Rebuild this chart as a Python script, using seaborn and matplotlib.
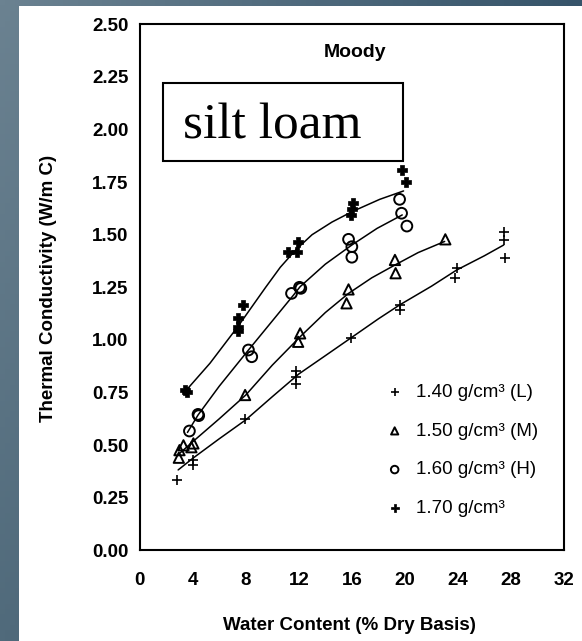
import numpy as np
import pandas as pd
import matplotlib
matplotlib.use("Agg")
import matplotlib.pyplot as plt
import seaborn as sns
from matplotlib.patches import Rectangle

# ---------------- data ----------------
series_labels = ["1.40 g/cm³ (L)", "1.50 g/cm³ (M)", "1.60 g/cm³ (H)", "1.70 g/cm³"]

L_x = [2.8, 4.0, 4.0, 7.95, 11.8, 11.8, 11.8, 15.9, 19.6, 19.6, 23.9, 23.8, 27.45, 27.45, 27.55]
L_y = [0.334, 0.43, 0.406, 0.626, 0.85, 0.825, 0.79, 1.01, 1.166, 1.143, 1.34, 1.293, 1.514, 1.475, 1.388]

M_x = [3.0, 3.3, 2.95, 4.05, 3.9, 7.95, 12.1, 11.95, 15.75, 15.6, 19.25, 19.3, 23.05]
M_y = [0.476, 0.499, 0.44, 0.508, 0.49, 0.738, 1.031, 0.991, 1.24, 1.174, 1.38, 1.317, 1.478]

H_x = [3.75, 4.4, 4.45, 8.2, 8.45, 11.45, 12.05, 12.15, 15.75, 16.0, 16.0, 19.6, 19.75, 20.15]
H_y = [0.567, 0.646, 0.64, 0.952, 0.92, 1.221, 1.25, 1.245, 1.478, 1.443, 1.393, 1.668, 1.602, 1.541]

V_x = [3.45, 3.6, 7.8, 7.4, 7.4, 7.45, 11.2, 11.85, 11.95, 16.1, 15.9, 16.0, 19.75, 20.1]
V_y = [0.762, 0.752, 1.166, 1.103, 1.06, 1.04, 1.42, 1.42, 1.467, 1.649, 1.594, 1.62, 1.807, 1.749]

# fitted curves
L_fit_x = [2.9, 4.0, 6.0, 8.0, 10.0, 12.0, 14.0, 15.9, 18.0, 19.6, 22.0, 23.9, 26.0, 27.45]
L_fit_y = [0.382, 0.437, 0.53, 0.62, 0.73, 0.838, 0.925, 1.008, 1.1, 1.166, 1.255, 1.332, 1.4, 1.451]

M_fit_x = [3.0, 4.0, 6.0, 8.0, 10.0, 12.1, 14.0, 15.75, 17.5, 19.25, 21.0, 23.0]
M_fit_y = [0.46, 0.516, 0.625, 0.738, 0.88, 1.015, 1.13, 1.221, 1.295, 1.356, 1.415, 1.468]

H_fit_x = [3.6, 4.4, 6.0, 8.1, 10.0, 11.6, 12.1, 14.0, 16.0, 17.9, 19.8]
H_fit_y = [0.56, 0.643, 0.78, 0.944, 1.09, 1.213, 1.253, 1.36, 1.451, 1.53, 1.594]

V_fit_x = [3.5, 5.3, 7.4, 9.5, 10.6, 11.8, 13.0, 14.5, 16.0, 18.1, 19.9]
V_fit_y = [0.76, 0.889, 1.063, 1.25, 1.345, 1.43, 1.5, 1.56, 1.609, 1.668, 1.708]

x_ticks = [0, 4, 8, 12, 16, 20, 24, 28, 32]
y_ticks = [0.00, 0.25, 0.50, 0.75, 1.00, 1.25, 1.50, 1.75, 2.00, 2.25, 2.50]

# ---------------- styling ----------------
sns.set_theme(style="white")
plt.rcParams['font.family'] = ['Liberation Sans', 'DejaVu Sans']

W, H = 582, 641
fig = plt.figure(figsize=(W / 100, H / 100), dpi=100)

# slate gradient background with white page
bg = fig.add_axes([0, 0, 1, 1], zorder=-10)
def hexrgb(h):
    h = h.lstrip('#')
    return np.array([int(h[i:i + 2], 16) / 255 for i in (0, 2, 4)])
tl, tr, bl, br = hexrgb('#6b8291'), hexrgb('#36546a'), hexrgb('#506a7b'), hexrgb('#2f4a5e')
gx = np.linspace(0, 1, 120)[None, :, None]
gy = np.linspace(0, 1, 120)[:, None, None]
img = (1 - gy) * ((1 - gx) * tl + gx * tr) + gy * ((1 - gx) * bl + gx * br)
bg.imshow(img, aspect='auto', extent=(0, 1, 0, 1), origin='upper')
bg.add_patch(Rectangle((18.5 / W, 0), 1, 1 - 5.8 / H, facecolor='white',
                       edgecolor='none', transform=bg.transAxes))
bg.set_xlim(0, 1); bg.set_ylim(0, 1)
bg.axis('off')

ax_l, ax_r, ax_t, ax_b = 139.7, 564.0, 24.3, 550.3
ax = fig.add_axes([ax_l / W, (H - ax_b) / H, (ax_r - ax_l) / W, (ax_b - ax_t) / H])
ax.set_facecolor('white')

# curves
for fx, fy in [(L_fit_x, L_fit_y), (M_fit_x, M_fit_y), (H_fit_x, H_fit_y), (V_fit_x, V_fit_y)]:
    sns.lineplot(x=fx, y=fy, sort=False, estimator=None, color='black', lw=1.1, ax=ax,
                 legend=False)

# points
sns.scatterplot(x=L_x, y=L_y, marker='+', s=55, color='black', linewidth=1.2,
                label=series_labels[0], ax=ax, zorder=3)
sns.scatterplot(x=M_x, y=M_y, marker='^', s=55, facecolor='none', edgecolor='black',
                linewidth=1.4, label=series_labels[1], ax=ax, zorder=3)
sns.scatterplot(x=H_x, y=H_y, marker='o', s=60, facecolor='none', edgecolor='black',
                linewidth=1.4, label=series_labels[2], ax=ax, zorder=3)
sns.scatterplot(x=V_x, y=V_y, marker='P', s=60, color='black', edgecolor='black',
                linewidth=0.5, label=series_labels[3], ax=ax, zorder=3)

ax.set_xlim(0, 32)
ax.set_ylim(0, 2.5)
ax.set_xticks(x_ticks)
ax.set_xticklabels([str(t) for t in x_ticks])
ax.set_yticks(y_ticks)
ax.set_yticklabels([f"{t:.2f}" for t in y_ticks])

for sp in ax.spines.values():
    sp.set_visible(True)
    sp.set_color('black')
    sp.set_linewidth(1.5)

ax.tick_params(axis='both', direction='in', length=7.5, width=1.4, color='black',
               labelsize=13.5, labelcolor='black')
ax.tick_params(axis='x', pad=15.5)
ax.tick_params(axis='y', pad=8.0)
for lab in ax.get_xticklabels() + ax.get_yticklabels():
    lab.set_fontweight('bold')

ax.set_xlabel("Water Content (% Dry Basis)", fontsize=13.5, fontweight='bold', color='black')
ax.set_ylabel("Thermal Conductivity (W/m C)", fontsize=13.5, fontweight='bold', color='black')
ax.xaxis.set_label_coords(0.495, (ax_b - 629.5) / (ax_b - ax_t))
ax.xaxis.label.set_va('baseline')
ax.yaxis.set_label_coords((53.3 - ax_l) / (ax_r - ax_l), 0.497)
ax.yaxis.label.set_va('baseline')

ax.text((355.5 - ax_l) / (ax_r - ax_l), (ax_b - 56.7) / (ax_b - ax_t), "Moody",
        transform=ax.transAxes, ha='center', va='baseline', fontsize=14,
        fontweight='bold', color='black')

# silt loam box
bx0, bx1, by0, by1 = 162.7, 402.6, 83.3, 160.7
ax.add_patch(Rectangle(((bx0 - ax_l) / (ax_r - ax_l), (ax_b - by1) / (ax_b - ax_t)),
                       (bx1 - bx0) / (ax_r - ax_l), (by1 - by0) / (ax_b - ax_t),
                       transform=ax.transAxes, facecolor='white', edgecolor='black',
                       linewidth=1.5, zorder=4))
ax.text((183.3 - ax_l) / (ax_r - ax_l), (ax_b - 138.3) / (ax_b - ax_t), "silt loam",
        transform=ax.transAxes, ha='left', va='baseline', fontsize=37,
        family=['Liberation Serif', 'DejaVu Serif'], color='black', zorder=5)

leg = ax.legend(loc='upper left', bbox_to_anchor=((385.3 - ax_l) / (ax_r - ax_l),
                                                   (ax_b - 384.0) / (ax_b - ax_t)),
                frameon=False, borderpad=0, borderaxespad=0, handlelength=1.0,
                handletextpad=0.62, labelspacing=1.15, fontsize=13.5, markerscale=0.7)
for t in leg.get_texts():
    t.set_color('black')

fig.savefig("out.png", dpi=100)
